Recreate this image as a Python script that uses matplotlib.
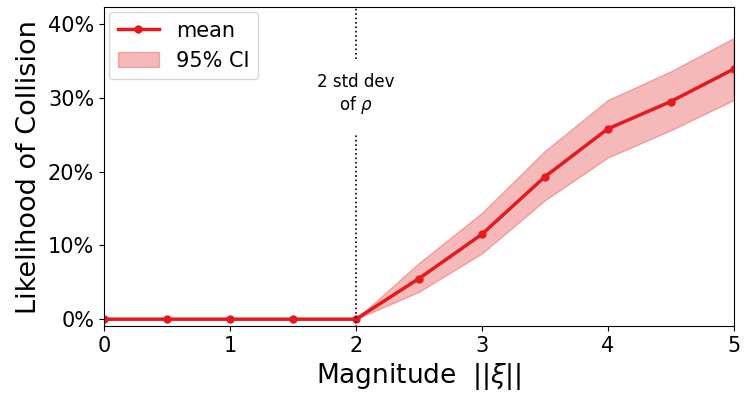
import numpy as np
import matplotlib.pyplot as plt
from matplotlib.ticker import PercentFormatter

mag = [0, 0.5, 1, 1.5, 2, 2.5, 3, 3.5, 4, 4.5, 5]
mean = [0, 0, 0, 0, 0, 0.055, 0.115, 0.193, 0.258, 0.295, 0.339]
ci_low = [0, 0, 0, 0, 0, 0.037, 0.089, 0.161, 0.219, 0.256, 0.297]
ci_high = [0, 0, 0, 0, 0, 0.076, 0.144, 0.228, 0.297, 0.336, 0.381]

red = '#e41a1c'

fig = plt.figure(figsize=(7.48, 3.93), dpi=100)
ax = fig.add_axes([0.139, 0.170, 0.842, 0.812])

ax.plot(mag, mean, color=red, lw=2.5, marker='o', ms=5, label='mean')
ax.fill_between(mag, ci_low, ci_high, color=red, alpha=0.3, label='95% CI')

ax.vlines(2, -0.01, 0.252, colors='k', linestyles=':', lw=1.2)
ax.vlines(2, 0.352, 0.43, colors='k', linestyles=':', lw=1.2)
ax.text(2, 0.305, '2 std dev\nof $\\rho$', ha='center', va='center', fontsize=12)

ax.set_xlim(0, 5)
ax.set_ylim(-0.0095, 0.423)
ax.set_yticks([0, 0.1, 0.2, 0.3, 0.4])
ax.yaxis.set_major_formatter(PercentFormatter(1, decimals=0))
ax.tick_params(labelsize=15)
ax.set_xlabel('Magnitude  $||\\xi||$', fontsize=19)
ax.set_ylabel('Likelihood of Collision', fontsize=19.5)
ax.legend(loc='upper left', fontsize=15, borderaxespad=0.25)

fig.savefig('out.png')
